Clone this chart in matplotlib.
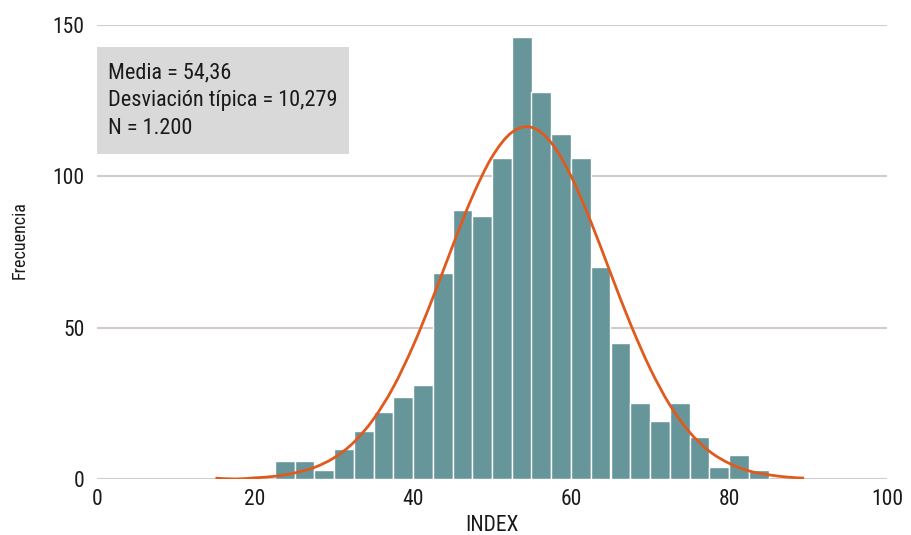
import numpy as np
import matplotlib
matplotlib.use('Agg')
import matplotlib.pyplot as plt  # noqa E402
from matplotlib.patches import Rectangle, PathPatch  # noqa E402
from matplotlib.path import Path  # noqa E402

plt.rcParams['font.family'] = ['Roboto Condensed', 'DejaVu Sans']

# Histogram: counts per bin of width 2.5 starting at 22.5
bin_start = 22.5
bin_width = 2.5
counts = [6, 6, 3, 10, 16, 22, 27, 31, 68, 89, 87, 106, 146,
          128, 114, 106, 70, 45, 25, 19, 25, 14, 4, 8, 3]

# Fitted normal curve
curve_x = [15, 17.5, 20, 22.5, 25, 27.5, 30, 32.5, 35, 37.5, 40, 42.5,
           45, 47.5, 50, 52.5, 55, 57.5, 60, 62.5, 65, 67.5, 70, 72.5,
           75, 77.5, 80, 82.5, 85, 87.5, 89.5]
curve_y = [0.3, 0.0, 0.4, 0.9, 2.0, 3.8, 7.0, 12.1, 19.8, 30.3, 43.9, 59.8,
           76.9, 93.2, 106.4, 114.5, 116.2, 111.1, 100.1, 85.1, 68.1, 51.4,
           36.6, 24.5, 15.5, 9.2, 5.2, 2.7, 1.4, 0.6, 0.3]

stats_text = "Media = 54,36\nDesviación típica = 10,279\nN = 1.200"
x_ticks = [0, 20, 40, 60, 80, 100]
y_ticks = [0, 50, 100, 150]

bar_color = '#67969a'
line_color = '#e05a1e'
grid_color = '#d3cbcb'
text_color = '#1a1a1a'


def smooth_path(xs, ys):
    # Catmull-Rom through the points, as cubic Bezier segments
    p = np.column_stack([xs, ys])
    p = np.vstack([p[0], p, p[-1]])
    verts = [p[1]]
    codes = [Path.MOVETO]
    for i in range(1, len(p) - 2):
        c1 = p[i] + (p[i + 1] - p[i - 1]) / 6
        c2 = p[i + 1] - (p[i + 2] - p[i]) / 6
        verts += [c1, c2, p[i + 1]]
        codes += [Path.CURVE4] * 3
    return Path(verts, codes)


fig = plt.figure(figsize=(9.12, 5.35), dpi=100)
ax = fig.add_axes([97 / 912, 56 / 535, 790 / 912, 454 / 535])

lefts = bin_start + bin_width * np.arange(len(counts))
ax.bar(lefts, counts, width=bin_width, align='edge', color=bar_color,
       edgecolor='white', linewidth=1.0, zorder=2)
ax.add_patch(PathPatch(smooth_path(curve_x, curve_y), facecolor='none',
                       edgecolor=line_color, linewidth=2, zorder=3))

ax.set_xlim(0, 100)
ax.set_ylim(0, 150)
ax.set_xticks(x_ticks)
ax.set_yticks(y_ticks)
ax.grid(axis='y', color=grid_color, linewidth=1.5, zorder=0)
ax.set_axisbelow(True)
for s in ax.spines.values():
    s.set_visible(False)
ax.tick_params(axis='both', length=0, labelsize=15.5, colors=text_color)
ax.tick_params(axis='x', pad=7.5)
ax.tick_params(axis='y', pad=9)
ax.set_xlabel("INDEX", fontsize=15.5, color=text_color, labelpad=3)
ax.set_ylabel("Frecuencia", fontsize=13, color=text_color, labelpad=12)
ax.yaxis.set_label_coords(-0.087, 0.526)

# Statistics box
ax.add_patch(Rectangle((97 / 912, (535 - 154) / 535), 252 / 912, 107 / 535,
                       transform=fig.transFigure, facecolor='#d9d9d9',
                       edgecolor='none', zorder=1))
fig.text(108 / 912, (535 - 62) / 535, stats_text, fontsize=16,
         va='top', ha='left', color=text_color, linespacing=1.45)

fig.savefig('out.png', dpi=100)
plt.close(fig)
